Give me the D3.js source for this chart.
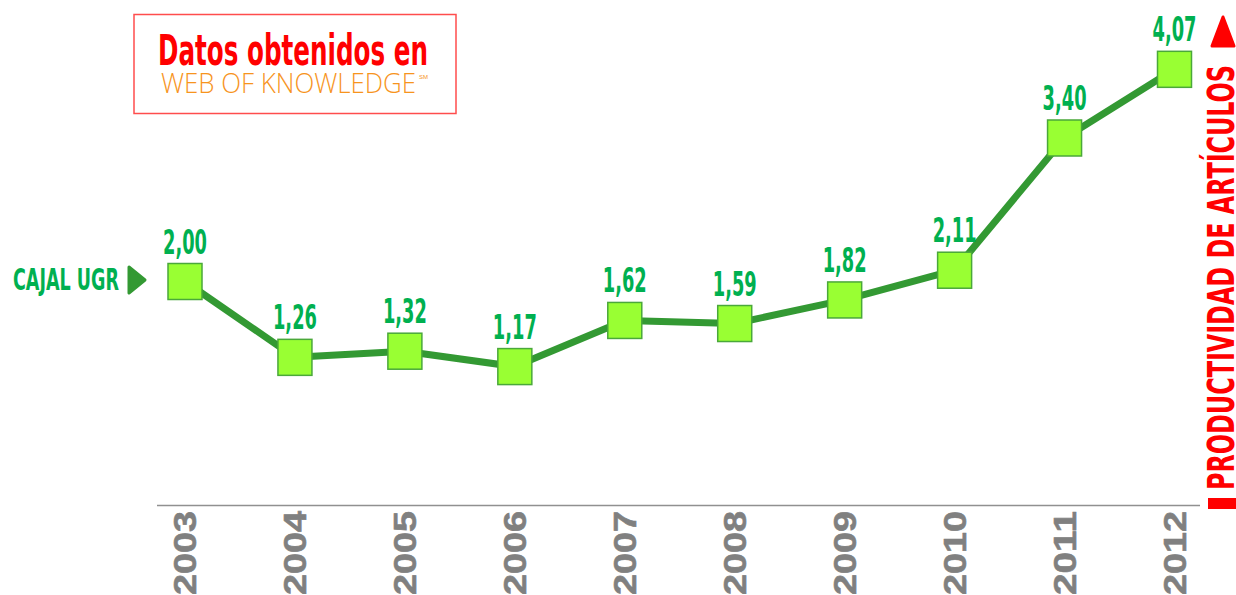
<!DOCTYPE html>
<html>
<head>
<meta charset="utf-8">
<script src="https://cdn.jsdelivr.net/npm/d3@7"></script>
<style>
  html, body { margin: 0; padding: 0; background: #fff; overflow: hidden; }
  .narrow { font-family: "Liberation Sans Narrow", "DejaVu Sans Condensed", "Liberation Sans", sans-serif; font-weight: bold; }
</style>
</head>
<body>
<div id="grafico"></div>
<script>
const anios = ["2003", "2004", "2005", "2006", "2007", "2008", "2009", "2010", "2011", "2012"];
const productividad = [2.00, 1.26, 1.32, 1.17, 1.62, 1.59, 1.82, 2.11, 3.40, 4.07];
const titulo = "Datos obtenidos en";
const subtitulo = "WEB OF KNOWLEDGE";
const serieNombre = "CAJAL UGR";
const ejeNombre = "PRODUCTIVIDAD  DE ARTÍCULOS";

const datos = anios.map((a, i) => ({ anio: a, valor: productividad[i] }));

const ancho = 1236, alto = 595;

const svg = d3.select("#grafico").append("svg")
  .attr("width", ancho)
  .attr("height", alto);

// escalas
const x = d3.scalePoint()
  .domain(anios)
  .range([185, 1174.5]);

const y = d3.scaleLinear()
  .domain([0, 4])
  .range([486.5, 76.5]);

// eje inferior
svg.append("line")
  .attr("x1", 157).attr("x2", 1200)
  .attr("y1", 505.5).attr("y2", 505.5)
  .attr("stroke", "#909090")
  .attr("stroke-width", 1.5);

svg.selectAll(".anio")
  .data(anios)
  .enter().append("text")
  .attr("class", "anio")
  .attr("transform", d => `translate(${x(d) + 11},511) rotate(-90)`)
  .attr("text-anchor", "end")
  .attr("font-family", "Liberation Sans, Arial, sans-serif")
  .attr("font-weight", "bold")
  .attr("font-size", 31)
  .attr("textLength", 84)
  .attr("lengthAdjust", "spacingAndGlyphs")
  .attr("fill", "#808080")
  .attr("stroke", "#808080")
  .attr("stroke-width", 0.6)
  .text(d => d);

// linea
const linea = d3.line()
  .x(d => x(d.anio))
  .y(d => y(d.valor));

svg.append("path")
  .datum(datos)
  .attr("d", linea)
  .attr("fill", "none")
  .attr("stroke", "#339933")
  .attr("stroke-width", 7)
  .attr("stroke-linejoin", "round");

// marcadores
const lado = 34;
svg.selectAll(".marca")
  .data(datos)
  .enter().append("rect")
  .attr("class", "marca")
  .attr("x", d => x(d.anio) - lado / 2)
  .attr("y", d => y(d.valor) - 18)
  .attr("width", lado)
  .attr("height", 36)
  .attr("fill", "#99ff33")
  .attr("stroke", "#4aa83a")
  .attr("stroke-width", 1.5);

// etiquetas de valores
svg.selectAll(".valor")
  .data(datos)
  .enter().append("text")
  .attr("class", "valor narrow")
  .attr("transform", d => `translate(${x(d.anio)},${y(d.valor) - 28}) scale(0.6,1)`)
  .attr("text-anchor", "middle")
  .attr("font-size", 33)
  .attr("fill", "#00b050")
  .text(d => d3.format(".2f")(d.valor).replace(".", ","));

// cuadro del titulo
svg.append("rect")
  .attr("x", 134).attr("y", 14.5)
  .attr("width", 322).attr("height", 99)
  .attr("fill", "#fff")
  .attr("stroke", "#ff4d4d")
  .attr("stroke-width", 1.5);

svg.append("text")
  .attr("class", "narrow")
  .attr("x", 158).attr("y", 65)
  .attr("font-size", 43)
  .attr("textLength", 270)
  .attr("lengthAdjust", "spacingAndGlyphs")
  .attr("fill", "#ff0000")
  .text(titulo);

svg.append("text")
  .attr("x", 161).attr("y", 93)
  .attr("font-family", "Open Sans, Liberation Sans, sans-serif")
  .attr("font-size", 27)
  .attr("font-weight", 300)
  .attr("textLength", 255)
  .attr("lengthAdjust", "spacingAndGlyphs")
  .attr("fill", "#f7941d")
  .text(subtitulo);

svg.append("text")
  .attr("x", 419).attr("y", 79)
  .attr("font-family", "Liberation Sans, sans-serif")
  .attr("font-size", 6)
  .attr("fill", "#f7941d")
  .text("SM");

// nombre de la serie
svg.append("text")
  .attr("class", "narrow")
  .attr("x", 13).attr("y", 290)
  .attr("font-size", 31)
  .attr("textLength", 106)
  .attr("lengthAdjust", "spacingAndGlyphs")
  .attr("fill", "#00b050")
  .text(serieNombre);

svg.append("path")
  .attr("d", "M129,267 L145,280 L129,293 Z")
  .attr("fill", "#339933")
  .attr("stroke", "#339933")
  .attr("stroke-width", 3)
  .attr("stroke-linejoin", "round");

// titulo del eje derecho
svg.append("text")
  .attr("class", "narrow")
  .attr("transform", "translate(1234,490) rotate(-90)")
  .attr("font-size", 37)
  .attr("textLength", 425)
  .attr("lengthAdjust", "spacingAndGlyphs")
  .attr("fill", "#ff0000")
  .text(ejeNombre);

svg.append("path")
  .attr("d", "M1223,17 L1234,46 L1212,46 Z")
  .attr("fill", "#ff0000")
  .attr("stroke", "#ff0000")
  .attr("stroke-width", 3)
  .attr("stroke-linejoin", "round");

svg.append("rect")
  .attr("x", 1208).attr("y", 498)
  .attr("width", 28).attr("height", 11)
  .attr("fill", "#ff0000");
</script>
</body>
</html>
